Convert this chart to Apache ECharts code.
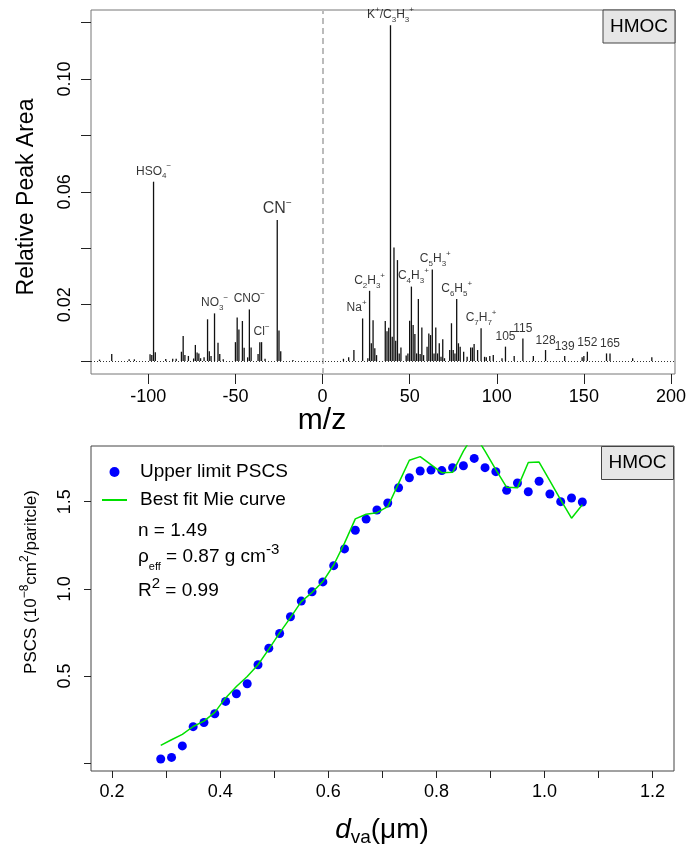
<!DOCTYPE html>
<html><head><meta charset="utf-8">
<script src="https://cdn.jsdelivr.net/npm/echarts@6/dist/echarts.min.js"></script>
<style>html,body{margin:0;padding:0;background:#fff}#c{width:689px;height:846px}</style>
</head><body><div id="c"></div>
<script>
const FONT = "'Liberation Sans', Arial, Helvetica, sans-serif";

// ---- Top panel: mass spectrum (negative and positive ions) ----
const negMz = [-128,-121,-111,-108,-99,-98,-97,-96,-90,-86,-84,-81,-80,-79,-77,-74,-73,-72,-71,-70,-68,-66,-65,-64,-62,-60,-59,-57,-50,-49,-48,-46,-45,-43,-42,-41,-37,-36,-35,-33,-26,-25,-24,-17];
const negH  = [0.0005,0.0025,0.0006,0.0006,0.0024,0.0021,0.0636,0.0031,0.0007,0.0008,0.0008,0.0033,0.0089,0.0021,0.0018,0.0009,0.0057,0.0030,0.0027,0.0010,0.0013,0.0148,0.0035,0.0018,0.0169,0.0065,0.0025,0.0006,0.0067,0.0154,0.0112,0.0142,0.0047,0.0013,0.0183,0.0048,0.0025,0.0067,0.0067,0.0008,0.0500,0.0108,0.0035,0.0004];
const posMz = [12,15,18,23,26,27,28,29,30,31,36,37,38,39,40,41,42,43,44,45,48,49,50,51,52,53,54,55,56,57,58,60,61,62,63,64,65,66,67,68,69,70,73,74,75,76,77,78,79,81,83,85,86,87,89,91,93,94,96,98,103,105,110,115,121,128,139,149,150,152,163,165,178,189];
const posH  = [0.0008,0.0013,0.0039,0.0151,0.0010,0.0249,0.0063,0.0145,0.0045,0.0021,0.0142,0.0106,0.0118,0.1191,0.0086,0.0403,0.0072,0.0358,0.0027,0.0048,0.0020,0.0027,0.0143,0.0264,0.0128,0.0096,0.0027,0.0220,0.0025,0.0119,0.0021,0.0051,0.0098,0.0092,0.0325,0.0027,0.0119,0.0027,0.0063,0.0015,0.0077,0.0010,0.0039,0.0134,0.0039,0.0027,0.0220,0.0063,0.0051,0.0033,0.0015,0.0048,0.0048,0.0060,0.0039,0.0116,0.0015,0.0013,0.0018,0.0021,0.0010,0.0051,0.0018,0.0080,0.0018,0.0039,0.0018,0.0013,0.0018,0.0033,0.0027,0.0027,0.0010,0.0013];
const mzTicks = [-100,-50,0,50,100,150,200];
const areaTicks = [0,0.02,0.04,0.06,0.08,0.10,0.12];
const areaLabels = [0.02,0.06,0.10];
const labelMz = [-97,-62,-42,-35,-26,23,27,39,51,63,77,91,105,115,128,139,152,165];
const labelText = ['HSO{sub|4}{sup|−}','NO{sub|3}{sup|−}','CNO{sup|−}','Cl{sup|−}','{big|CN}{bsup|−}','Na{sup|+}','C{sub|2}H{sub|3}{sup|+}','K{sup|+}/C{sub|3}H{sub|3}{sup|+}','C{sub|4}H{sub|3}{sup|+}','C{sub|5}H{sub|3}{sup|+}','C{sub|6}H{sub|5}{sup|+}','C{sub|7}H{sub|7}{sup|+}','{n|105}','{n|115}','{n|128}','{n|139}','{n|152}','{n|165}'];

// ---- Bottom panel: PSCS vs vacuum aerodynamic diameter ----
const dva  = [0.29,0.31,0.33,0.35,0.37,0.39,0.41,0.43,0.45,0.47,0.49,0.51,0.53,0.55,0.57,0.59,0.61,0.63,0.65,0.67,0.69,0.71,0.73,0.75,0.77,0.79,0.81,0.83,0.85,0.87,0.89,0.91,0.93,0.95,0.97,0.99,1.01,1.03,1.05,1.07];
const pscs = [0.025,0.034,0.10,0.21,0.234,0.284,0.355,0.399,0.456,0.565,0.66,0.744,0.84,0.93,0.983,1.04,1.133,1.229,1.336,1.40,1.452,1.492,1.58,1.637,1.676,1.681,1.678,1.695,1.706,1.748,1.695,1.672,1.565,1.607,1.557,1.617,1.544,1.50,1.521,1.498];
const mie  = [0.103,0.135,0.166,0.211,0.242,0.292,0.375,0.44,0.498,0.565,0.655,0.748,0.835,0.927,0.979,1.042,1.137,1.262,1.401,1.428,1.437,1.471,1.605,1.737,1.758,1.712,1.666,1.668,1.79,1.889,1.79,1.683,1.582,1.579,1.724,1.727,1.619,1.51,1.405,1.482];
const dvaTicks = [0.2,0.3,0.4,0.5,0.6,0.7,0.8,0.9,1.0,1.1,1.2];
const dvaLabels = [0.2,0.4,0.6,0.8,1.0,1.2];
const pscsTicks = [0,0.5,1.0,1.5];
const pscsLabels = [0.5,1.0,1.5];

const spectrum = negMz.map((m,i)=>[m,negH[i]]).concat(posMz.map((m,i)=>[m,posH[i]]));
function hOf(m){ let i = negMz.indexOf(m); if (i>=0) return negH[i]; i = posMz.indexOf(m); return posH[i]; }
const labelShift = {23:[-6,0], 63:[3,0], 51:[2,0]};

const chart = echarts.init(document.getElementById('c'));
chart.setOption({
  animation:false,
  backgroundColor:'#fff',
  textStyle:{fontFamily:FONT},
  grid:[
    {left:91, top:10, width:584, height:364, show:true, borderColor:'#777', borderWidth:1, backgroundColor:'transparent'},
    {left:91, top:446, width:583, height:325, show:true, borderColor:'#444', borderWidth:1, backgroundColor:'transparent'}
  ],
  xAxis:[
    {gridIndex:0, type:'value', min:-132.9, max:202.3, splitLine:{show:false}, axisLine:{show:false, onZero:false},
     axisTick:{show:true, length:10, customValues:mzTicks, lineStyle:{color:'#222'}},
     axisLabel:{customValues:mzTicks, fontSize:18, color:'#000', fontFamily:FONT, margin:14}},
    {gridIndex:1, type:'value', min:0.161, max:1.2396, splitLine:{show:false}, axisLine:{show:false, onZero:false},
     axisTick:{show:true, length:7, customValues:dvaTicks, lineStyle:{color:'#222'}},
     axisLabel:{customValues:dvaLabels, fontSize:18, color:'#000', fontFamily:FONT, margin:12, formatter:v=>v.toFixed(1)}}
  ],
  yAxis:[
    {gridIndex:0, type:'value', min:-0.0046, max:0.1245, splitLine:{show:false}, axisLine:{show:false, onZero:false},
     axisTick:{show:true, length:10, customValues:areaTicks, lineStyle:{color:'#222'}},
     axisLabel:{customValues:areaLabels, rotate:90, fontSize:18, color:'#000', fontFamily:FONT, margin:17, formatter:v=>v.toFixed(2)}},
    {gridIndex:1, type:'value', min:-0.044, max:1.819, splitLine:{show:false}, axisLine:{show:false, onZero:false},
     axisTick:{show:true, length:7, customValues:pscsTicks, lineStyle:{color:'#222'}},
     axisLabel:{customValues:pscsLabels, rotate:90, fontSize:18, color:'#000', fontFamily:FONT, margin:17, formatter:v=>v.toFixed(1)}}
  ],
  legend:{
    orient:'vertical', left:101, top:462, itemWidth:25, itemHeight:10, itemGap:8, padding:0, selectedMode:false,
    textStyle:{fontSize:19, color:'#000', fontFamily:FONT, lineHeight:20, padding:[0,0,0,8]},
    data:[{name:'Upper limit PSCS', icon:'circle'},{name:'Best fit Mie curve', itemStyle:{opacity:0}}]
  },
  series:[
    {type:'line', name:'zero', xAxisIndex:0, yAxisIndex:0, data:[], silent:true,
     markLine:{silent:true, symbol:'none', label:{show:false}, z:1,
       data:[{xAxis:0, lineStyle:{color:'#bbbbbb', type:[6,4], width:2, opacity:1}}]}},
    {type:'bar', name:'spectrum', xAxisIndex:0, yAxisIndex:0, data:spectrum, barWidth:1.3,
     itemStyle:{color:'#111'},
     markLine:{silent:true, symbol:'none', label:{show:false},
       data:[{yAxis:0, lineStyle:{color:'#333', type:[1,2], width:1}}]}},
    {type:'scatter', name:'labels', xAxisIndex:0, yAxisIndex:0, symbolSize:1, itemStyle:{color:'rgba(0,0,0,0)'},
     data:labelMz.map((m,i)=>({value:[m,hOf(m)], label:{formatter:labelText[i], offset:labelShift[m]||[0,0]}})),
     label:{show:true, position:'top', distance:1, fontSize:12, lineHeight:18, color:'#000', fontFamily:FONT,
       rich:{
         sub:{fontSize:8, lineHeight:8, verticalAlign:'bottom', fontFamily:FONT},
         sup:{fontSize:8, lineHeight:8, verticalAlign:'top', fontFamily:FONT},
         big:{fontSize:16, lineHeight:20, fontFamily:FONT},
         bsup:{fontSize:10, lineHeight:10, verticalAlign:'top', fontFamily:FONT},
         n:{fontSize:12, lineHeight:16, fontFamily:FONT}
       }}},
    {type:'scatter', name:'Upper limit PSCS', xAxisIndex:1, yAxisIndex:1, symbolSize:9, itemStyle:{color:'#0000ff', opacity:1},
     data:dva.map((x,i)=>[x,pscs[i]])},
    {type:'line', name:'Best fit Mie curve', xAxisIndex:1, yAxisIndex:1, symbol:'none', clip:true,
     lineStyle:{color:'#00e000', width:1.5}, itemStyle:{color:'#00e000'},
     data:dva.map((x,i)=>[x,mie[i]])}
  ],
  graphic:[
    {type:'rect', shape:{x:603, y:10, width:72, height:33}, style:{fill:'#e6e6e6', stroke:'#444', lineWidth:1}},
    {type:'text', x:639, y:27, style:{text:'HMOC', fontSize:19, fontFamily:FONT, fill:'#000', align:'center', verticalAlign:'middle'}},
    {type:'rect', shape:{x:601.5, y:446.5, width:72, height:33}, style:{fill:'#e6e6e6', stroke:'#444', lineWidth:1}},
    {type:'text', x:637.5, y:463, style:{text:'HMOC', fontSize:19, fontFamily:FONT, fill:'#000', align:'center', verticalAlign:'middle'}},
    {type:'text', x:27, y:197, rotation:Math.PI/2, style:{text:'Relative Peak Area', fontSize:23, fontFamily:FONT, fill:'#000', align:'center', verticalAlign:'middle'}},
    {type:'text', x:322, y:421, style:{text:'m/z', fontSize:30, fontFamily:FONT, fill:'#000', align:'center', verticalAlign:'middle'}},
    {type:'text', x:31, y:582, rotation:Math.PI/2, style:{text:'PSCS (10{s|−8}cm{s|2}/paritcle)', fontSize:17, fontFamily:FONT, fill:'#000', align:'center', verticalAlign:'middle', lineHeight:24,
      rich:{s:{fontSize:12, lineHeight:12, verticalAlign:'top', fontFamily:FONT}}}},
    {type:'text', x:382, y:830, style:{text:'{i|d}{s|va}(μm)', fontSize:28, fontFamily:FONT, fill:'#000', align:'center', verticalAlign:'middle', lineHeight:34,
      rich:{i:{fontSize:28, fontStyle:'italic', fontFamily:FONT, lineHeight:34}, s:{fontSize:19, lineHeight:19, verticalAlign:'bottom', fontFamily:FONT}}}},
    {type:'text', x:138, y:531, style:{text:'n = 1.49', fontSize:19, fontFamily:FONT, fill:'#000', align:'left', verticalAlign:'middle'}},
    {type:'text', x:138, y:557, style:{text:'ρ{sb|eff} = 0.87 g cm{sp|-3}', fontSize:19, fontFamily:FONT, fill:'#000', align:'left', verticalAlign:'middle', lineHeight:30,
      rich:{sb:{fontSize:11, lineHeight:11, verticalAlign:'bottom', fontFamily:FONT}, sp:{fontSize:15, lineHeight:15, verticalAlign:'top', fontFamily:FONT}}}},
    {type:'text', x:138, y:591, style:{text:'R{sp|2} = 0.99', fontSize:19, fontFamily:FONT, fill:'#000', align:'left', verticalAlign:'middle', lineHeight:30,
      rich:{sp:{fontSize:15, lineHeight:15, verticalAlign:'top', fontFamily:FONT}}}}
  ]
});
</script></body></html>
